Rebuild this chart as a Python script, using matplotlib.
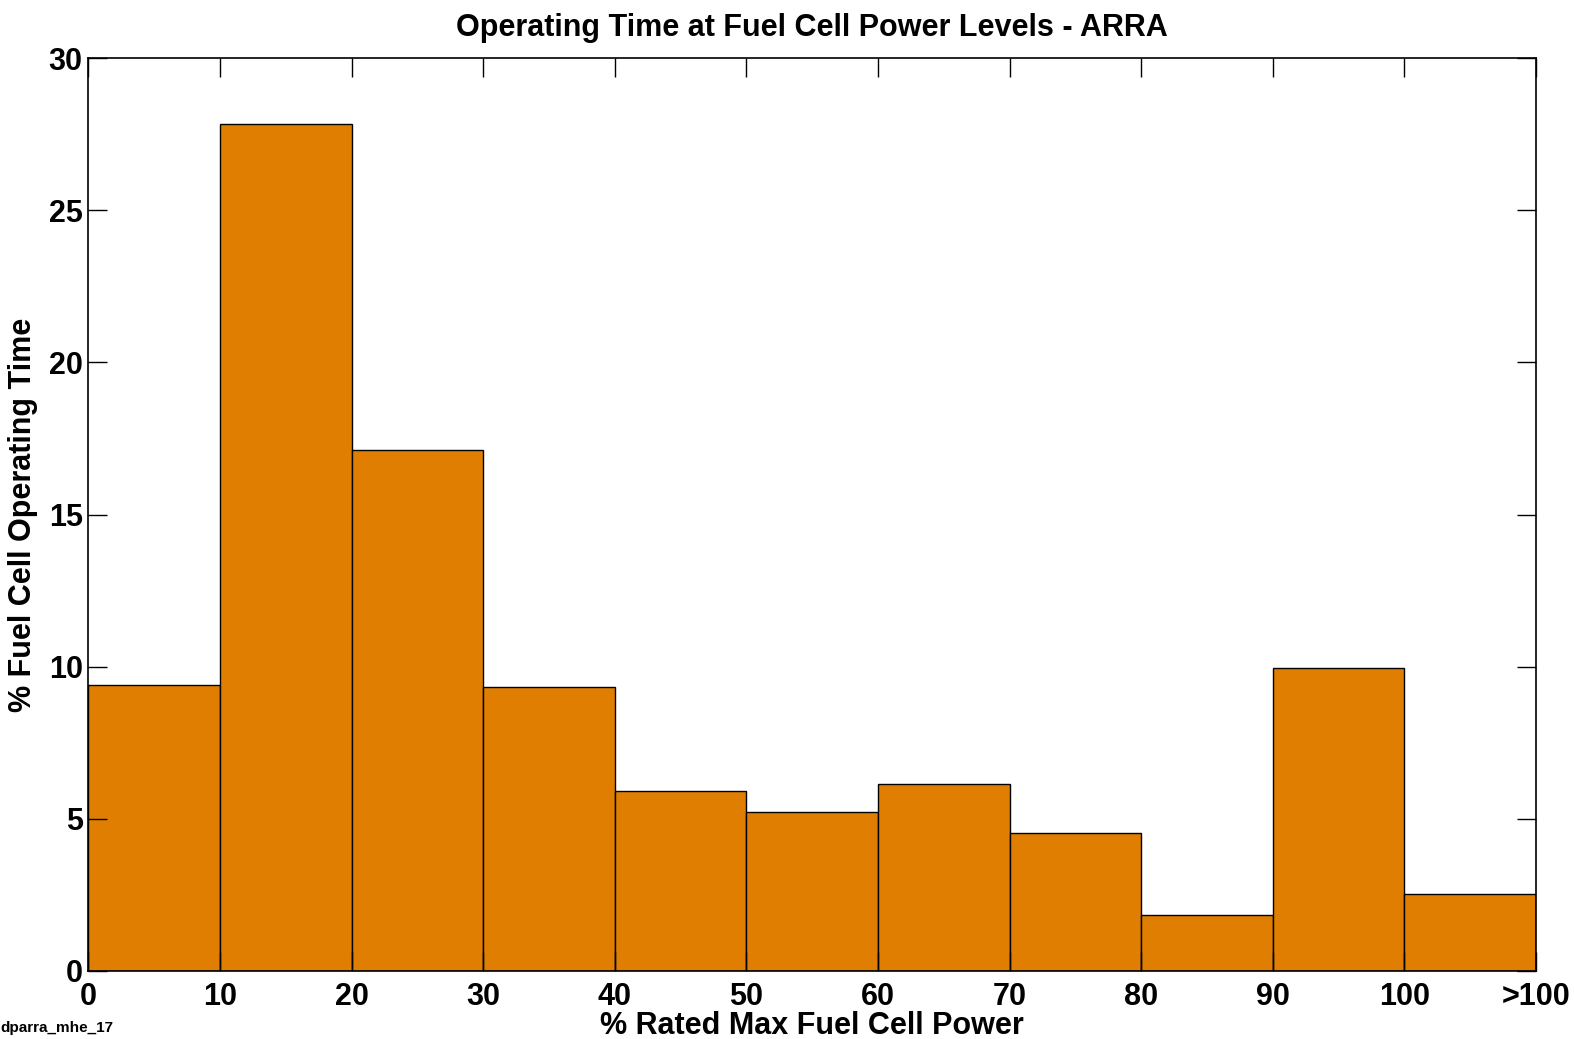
import matplotlib
matplotlib.use("Agg")
import matplotlib.pyplot as plt

bin_left = [0, 10, 20, 30, 40, 50, 60, 70, 80, 90, 100]
pct_time = [9.41, 27.85, 17.13, 9.34, 5.91, 5.21, 6.14, 4.55, 1.85, 9.97, 2.54]
tick_pos = [0, 10, 20, 30, 40, 50, 60, 70, 80, 90, 100, 110]
tick_labels = ["0", "10", "20", "30", "40", "50", "60", "70", "80", "90", "100", ">100"]
y_ticks = [0, 5, 10, 15, 20, 25, 30]

plt.rcParams['font.family'] = ['Liberation Sans', 'DejaVu Sans']
plt.rcParams['font.weight'] = 'bold'

W, H = 1574, 1039
L, R, T, B = 88.3, 1536, 58.2, 971
fig = plt.figure(figsize=(W/100, H/100), dpi=100)
ax = fig.add_axes([L/W, 1 - B/H, (R-L)/W, (B-T)/H])

ax.bar(bin_left, pct_time, width=10, align='edge', color='#DF7E00',
       edgecolor='black', linewidth=1.0)
ax.set_xlim(0, 110)
ax.set_ylim(0, 30)
ax.set_xticks(tick_pos)
ax.set_xticklabels(tick_labels)
ax.set_yticks(y_ticks)
ax.tick_params(direction='in', length=14, width=1, top=True, right=True,
               labelsize=22)
ax.tick_params(axis='x', pad=8)
ax.tick_params(axis='y', pad=4)
for lab in ax.get_xticklabels() + ax.get_yticklabels():
    lab.set_fontweight('bold')
for s in ax.spines.values():
    s.set_linewidth(1.2)

ax.set_title("Operating Time at Fuel Cell Power Levels - ARRA", fontsize=22,
             fontweight='bold', pad=16)
ax.set_xlabel("% Rated Max Fuel Cell Power", fontsize=22, fontweight='bold', labelpad=-1)
ax.set_ylabel("% Fuel Cell Operating Time", fontsize=22, fontweight='bold', labelpad=8)
fig.text(0.0, 1 - 1028/H, "dparra_mhe_17", fontsize=11, fontweight='bold',
         ha='left', va='center')

fig.savefig("out.png", dpi=100)
